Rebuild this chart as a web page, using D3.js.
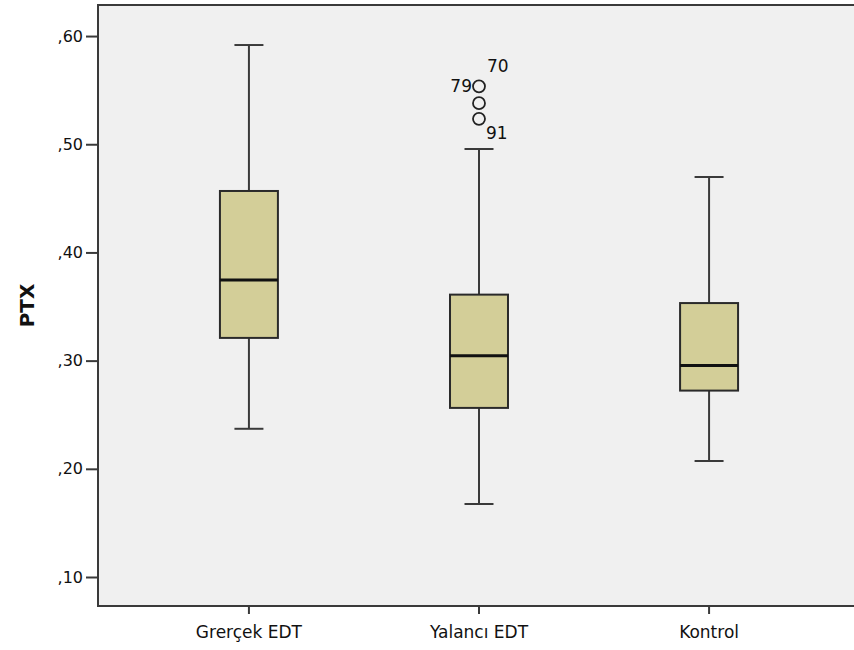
<!DOCTYPE html>
<html>
<head>
<meta charset="utf-8">
<script src="https://cdn.jsdelivr.net/npm/d3@7"></script>
<style>
  html, body { margin: 0; padding: 0; background: #ffffff; }
  svg { display: block; }
  text { font-family: "DejaVu Sans", Verdana, sans-serif; fill: #111; }
</style>
</head>
<body>
<svg id="chart" width="854" height="650"></svg>
<script>
// Group names and five-number summaries of PTX
const groups = ["Grerçek EDT", "Yalancı EDT", "Kontrol"];
const whiskerLow  = [0.237, 0.1675, 0.2072];
const quartile1   = [0.321, 0.2563, 0.2723];
const medians     = [0.3745, 0.3046, 0.2954];
const quartile3   = [0.4568, 0.361, 0.3532];
const whiskerHigh = [0.5917, 0.4956, 0.4697];

// Outlying cases: circles, and the case numbers printed next to them
const outlierGroup = ["Yalancı EDT", "Yalancı EDT", "Yalancı EDT"];
const outlierValue = [0.5535, 0.538, 0.5235];
const caseLabel = ["79", "70", "91"];
const caseValue = [0.5535, 0.5535, 0.5235];

const yTicks = [0.10, 0.20, 0.30, 0.40, 0.50, 0.60];

const svg = d3.select("#chart");
const plotL = 98, plotR = 860, plotT = 5, plotB = 606;

const y = d3.scaleLinear().domain([0.0732, 0.6287]).range([plotB, plotT]);
const x = d3.scaleBand().domain(groups).range([plotL, plotR]).paddingInner(0.748).paddingOuter(0.53);

// plot background (right edge runs past the page)
svg.append("rect")
  .attr("x", plotL).attr("y", plotT)
  .attr("width", plotR + 20 - plotL).attr("height", plotB - plotT)
  .attr("fill", "#f0f0f0")
  .attr("stroke", "#3a3a3a").attr("stroke-width", 2);

// y axis
const yAxis = d3.axisLeft(y).tickValues(yTicks)
  .tickFormat(d => d3.format(".2f")(d).replace("0.", ","))
  .tickSize(12).tickSizeOuter(0).tickPadding(3);
const gy = svg.append("g").attr("transform", `translate(${plotL},0)`).call(yAxis);
gy.select(".domain").remove();
gy.selectAll(".tick line").attr("stroke", "#3a3a3a").attr("stroke-width", 2);
gy.selectAll(".tick text").attr("font-size", 16).style("fill", "#111");

// x axis
const xAxis = d3.axisBottom(x).tickSize(8).tickSizeOuter(0).tickPadding(12);
const gx = svg.append("g").attr("transform", `translate(0,${plotB})`).call(xAxis);
gx.select(".domain").remove();
gx.selectAll(".tick line").attr("stroke", "#3a3a3a").attr("stroke-width", 2);
gx.selectAll(".tick text").attr("font-size", 17).style("fill", "#111");

// y axis title
svg.append("text")
  .attr("transform", `translate(34,${(plotT + plotB) / 2}) rotate(-90)`)
  .attr("text-anchor", "middle")
  .attr("font-size", 20).attr("font-weight", "bold")
  .text("PTX");

const bw = x.bandwidth();
const capW = 29;
const lineColor = "#3a3a3a";

groups.forEach((g, i) => {
  const cx = x(g) + bw / 2;
  const gB = svg.append("g");
  // whiskers
  gB.append("line").attr("x1", cx).attr("x2", cx)
    .attr("y1", y(whiskerHigh[i])).attr("y2", y(quartile3[i]))
    .attr("stroke", lineColor).attr("stroke-width", 2);
  gB.append("line").attr("x1", cx).attr("x2", cx)
    .attr("y1", y(quartile1[i])).attr("y2", y(whiskerLow[i]))
    .attr("stroke", lineColor).attr("stroke-width", 2);
  // caps
  [whiskerHigh[i], whiskerLow[i]].forEach(v => {
    gB.append("line").attr("x1", cx - capW / 2).attr("x2", cx + capW / 2)
      .attr("y1", y(v)).attr("y2", y(v))
      .attr("stroke", lineColor).attr("stroke-width", 2);
  });
  // box
  gB.append("rect")
    .attr("x", x(g)).attr("y", y(quartile3[i]))
    .attr("width", bw).attr("height", y(quartile1[i]) - y(quartile3[i]))
    .attr("fill", "#d3ce98").attr("stroke", "#2a2a2a").attr("stroke-width", 2);
  // median
  gB.append("line").attr("x1", x(g)).attr("x2", x(g) + bw)
    .attr("y1", y(medians[i])).attr("y2", y(medians[i]))
    .attr("stroke", "#111").attr("stroke-width", 3);
});

// outlier circles
outlierValue.forEach((v, k) => {
  svg.append("circle")
    .attr("cx", x(outlierGroup[k]) + bw / 2).attr("cy", y(v)).attr("r", 6)
    .attr("fill", "none").attr("stroke", "#222").attr("stroke-width", 1.8);
});

// case numbers
const labelPos = [
  { dx: -7, dy: 6, anchor: "end" },
  { dx: 8, dy: -14, anchor: "start" },
  { dx: 7, dy: 20, anchor: "start" }
];
caseLabel.forEach((t, k) => {
  const cx = x(outlierGroup[k]) + bw / 2;
  const cy = y(caseValue[k]);
  svg.append("text")
    .attr("x", cx + labelPos[k].dx).attr("y", cy + labelPos[k].dy)
    .attr("text-anchor", labelPos[k].anchor)
    .attr("font-size", 17)
    .text(t);
});
</script>
</body>
</html>
